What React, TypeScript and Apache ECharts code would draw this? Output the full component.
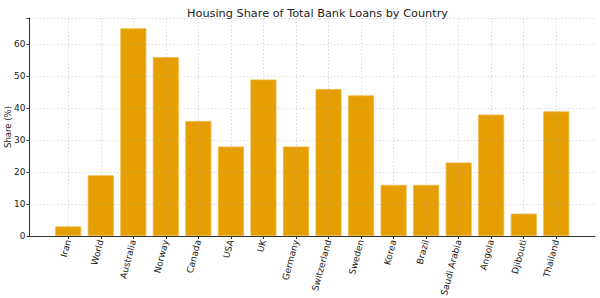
import React, { useEffect, useRef } from "react";
import * as echarts from "echarts";

const categories = [
  "Iran", "World", "Australia", "Norway", "Canada", "USA", "UK", "Germany",
  "Switzerland", "Sweden", "Korea", "Brazil", "Saudi Arabia", "Angola", "Djibouti", "Thailand",
];
const shares = [3, 19, 65, 56, 36, 28, 49, 28, 46, 44, 16, 16, 23, 38, 7, 39];
const yTicks = [0, 10, 20, 30, 40, 50, 60];

const FONT = "DejaVu Sans";

export default function App() {
  const ref = useRef<HTMLDivElement>(null);
  useEffect(() => {
    if (!ref.current) return;
    const chart = echarts.init(ref.current, undefined, { renderer: "svg" });
    const idx = categories.map((_, i) => i);
    const gridLine = { show: true, lineStyle: { color: "rgba(170,170,170,0.55)", type: [1.5, 2] as any, width: 0.8 } };
    chart.setOption({
      animation: false,
      title: {
        text: "Housing Share of Total Bank Loans by Country",
        left: 312.5,
        textAlign: "center",
        top: 3,
        textStyle: { fontFamily: FONT, fontSize: 11.3, fontWeight: "normal", color: "#222" },
      },
      grid: { left: 29.5, right: 5, top: 18, bottom: 62, containLabel: false, outerBoundsMode: "none" },
      xAxis: {
        type: "value",
        min: -1.19,
        max: 16.19,
        z: 5,
        axisLine: { show: true, onZero: false, lineStyle: { color: "#333", width: 1 } },
        axisTick: { show: true, customValues: idx, length: 3, lineStyle: { color: "#333" } },
        axisLabel: {
          customValues: idx,
          formatter: (v: number) => categories[Math.round(v)] ?? "",
          rotate: 75,
          fontFamily: FONT,
          fontSize: 9,
          color: "#222",
          margin: 4,
        },
        splitLine: gridLine,
      },
      yAxis: {
        type: "value",
        min: 0,
        max: 68.25,
        interval: 10,
        z: 5,
        name: "Share (%)",
        nameLocation: "middle",
        nameGap: 17,
        nameMoveOverlap: false,
        nameTextStyle: { fontFamily: FONT, fontSize: 8.5, color: "#222" },
        axisLine: { show: true, onZero: false, lineStyle: { color: "#333", width: 1 } },
        axisTick: { show: true, length: 3, lineStyle: { color: "#333" } },
        axisLabel: {
          fontFamily: FONT,
          fontSize: 9,
          color: "#222",
          margin: 4,
          formatter: (v: number) => (yTicks.includes(v) ? String(v) : ""),
        },
        splitLine: gridLine,
      },
      series: [
        {
          type: "bar",
          data: shares.map((v, i) => [i, v]),
          barWidth: 26,
          itemStyle: { color: "#E69F00", borderColor: "#EDB540", borderWidth: 0.8 },
        },
      ],
    });
    return () => chart.dispose();
  }, []);
  return <div ref={ref} style={{ width: 600, height: 298, position: "absolute", left: 0, top: 0 }} />;
}
